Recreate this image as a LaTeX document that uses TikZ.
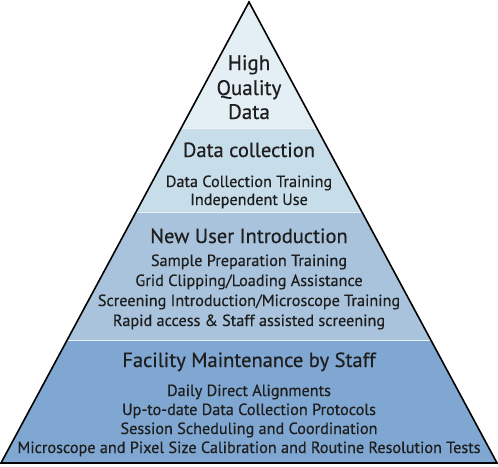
\documentclass[tikz,border=0pt]{standalone}
\usepackage{fontspec}
\setmainfont{PT Sans}[FakeBold=0.5]
\definecolor{lay1}{HTML}{E3EFF5}
\definecolor{lay2}{HTML}{C8DDEA}
\definecolor{lay3}{HTML}{A8C3DB}
\definecolor{lay4}{HTML}{7FA7D1}
\definecolor{sep}{HTML}{EAF2F8}
\definecolor{ink}{HTML}{1E1E1E}
\tikzset{
  head/.style={anchor=base, text=ink, font=\fontsize{20.5}{24}\selectfont, inner sep=0pt},
  top/.style={anchor=base, text=ink, font=\fontsize{21}{24}\selectfont, inner sep=0pt},
  item/.style={anchor=base, text=ink, font=\fontsize{16.2}{18}\selectfont, inner sep=0pt},
}
\begin{document}
\begin{tikzpicture}[x=1pt,y=-1pt]
\useasboundingbox (0,0) rectangle (498,466);
% pyramid geometry: apex (249,2), base (1,463)-(497,463)
\coordinate (A) at (249,2);
\coordinate (BL) at (1,463);
\coordinate (BR) at (497,463);
\path (A) -- (BL) coordinate[pos=0.2733] (L1) coordinate[pos=0.4555] (L2) coordinate[pos=0.7332] (L3);
\path (A) -- (BR) coordinate[pos=0.2733] (R1) coordinate[pos=0.4555] (R2) coordinate[pos=0.7332] (R3);
\fill[lay1] (A) -- (L1) -- (R1) -- cycle;
\fill[lay2] (L1) -- (L2) -- (R2) -- (R1) -- cycle;
\fill[lay3] (L2) -- (L3) -- (R3) -- (R2) -- cycle;
\fill[lay4] (L3) -- (BL) -- (BR) -- (R3) -- cycle;
\draw[sep, line width=0.8pt] (L1) -- (R1) (L2) -- (R2) (L3) -- (R3);
\draw[black, line width=1.6pt, line join=miter] (A) -- (BL) -- (BR) -- cycle;
% texts
\node[top] (t1) at (249,70) {High};
\node[top] (t2) at (249,95) {Quality};
\node[top] (t3) at (249,119) {Data};
\node[head] (h2) at (249,157) {Data collection};
\node[item] (i21) at (249,187) {Data Collection Training};
\node[item] (i22) at (249,205) {Independent Use};
\node[head] (h3) at (249,243) {New User Introduction};
\node[item] (i31) at (249,266) {Sample Preparation Training};
\node[item] (i32) at (249,286) {Grid Clipping/Loading Assistance};
\node[item] (i33) at (249,306) {Screening Introduction/Microscope Training};
\node[item] (i34) at (249,326) {Rapid access \& Staff assisted screening};
\node[head] (h4) at (249,367) {Facility Maintenance by Staff};
\node[item] (i41) at (249,396) {Daily Direct Alignments};
\node[item] (i42) at (249,415) {Up-to-date Data Collection Protocols};
\node[item] (i43) at (249,434) {Session Scheduling and Coordination};
\node[item] (i44) at (249,453) {Microscope and Pixel Size Calibration and Routine Resolution Tests};
\end{tikzpicture}
\end{document}
